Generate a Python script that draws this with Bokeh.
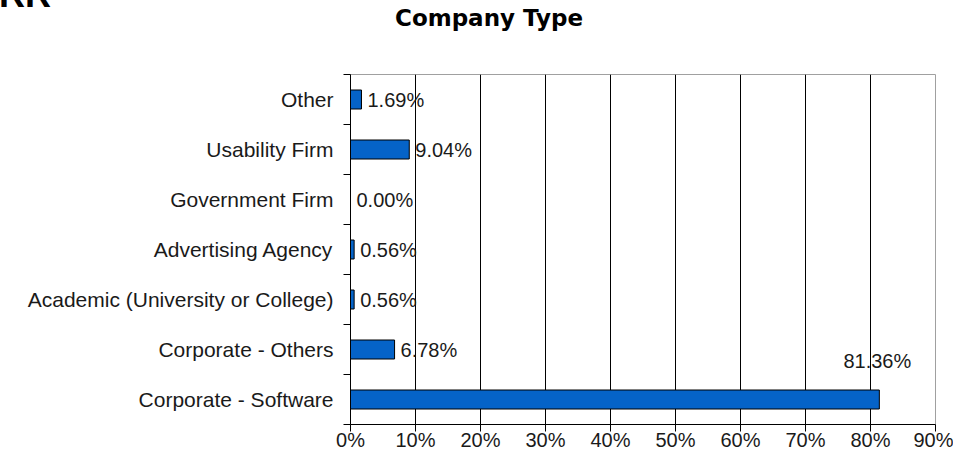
from bokeh.plotting import figure
from bokeh.models import FixedTicker, ColumnDataSource, PrintfTickFormatter, Div
from bokeh.layouts import column
from bokeh.core.properties import value
from bokeh.embed import file_html
from bokeh.resources import INLINE

# ---- data ----
categories = [
    "Corporate - Software",
    "Corporate - Others",
    "Academic (University or College)",
    "Advertising Agency",
    "Government Firm",
    "Usability Firm",
    "Other",
]
percents = [81.36, 6.78, 0.56, 0.56, 0.00, 9.04, 1.69]
x_ticks = [0, 10, 20, 30, 40, 50, 60, 70, 80, 90]
title_text = "Company Type"
page_heading = "RR"

FONT = "Liberation Sans"
TXT = "#1a1a1a"

centers = [i + 0.5 for i in range(len(categories))]
labels = [f"{v:.2f}%" for v in percents]

HEAD_H = 40
title_html = (
    f'<div style="position:relative;width:953px;height:{HEAD_H}px;overflow:hidden;margin:0;padding:0;">'
    '<div style="position:absolute;left:-1px;top:-23px;font-family:\'Liberation Sans\';'
    'font-size:36px;font-weight:bold;line-height:1;color:black;white-space:nowrap;">'
    f'{page_heading}</div>'
    '<div style="position:absolute;left:395px;top:5px;font-family:\'DejaVu Sans\';'
    'font-size:23px;font-weight:bold;line-height:normal;white-space:nowrap;color:black;">'
    f'{title_text}</div>'
    '</div>'
)
head = Div(text=title_html, width=953, height=HEAD_H, margin=(0, 0, 0, 0))

p = figure(width=953, height=453 - HEAD_H, x_range=(0, 90), y_range=(0, len(categories)),
           title=None, output_backend="svg", toolbar_location=None,
           min_border_left=350, min_border_right=18, min_border_top=74 - HEAD_H,
           min_border_bottom=26)
p.background_fill_color = "white"
p.outline_line_color = "#a0a0a0"
p.outline_line_width = 1

# grid
p.xgrid.ticker = FixedTicker(ticks=x_ticks[:-1])
p.xgrid.grid_line_color = "black"
p.xgrid.grid_line_width = 1
p.ygrid.visible = False

# bars
src = ColumnDataSource(dict(y=centers, right=percents, label=labels, cat=categories))
p.hbar(y="y", left=0, right="right", height=0.38, source=src,
       fill_color="#0563c8", line_color="black", line_width=1)

# value labels
small = [i for i, v in enumerate(percents) if v < 50]
big = [i for i, v in enumerate(percents) if v >= 50]
s_small = ColumnDataSource(dict(x=[percents[i] for i in small], y=[centers[i] for i in small],
                                t=[labels[i] for i in small]))
s_big = ColumnDataSource(dict(x=[percents[i] for i in big], y=[centers[i] for i in big],
                              t=[labels[i] for i in big]))
p.text(x="x", y="y", text="t", source=s_small, x_offset=6, text_align="left",
       text_baseline="middle", text_font=value(FONT), text_font_size="20px", text_color=TXT)
p.text(x="x", y="y", text="t", source=s_big, x_offset=-2, y_offset=-39, text_align="center",
       text_baseline="middle", text_font=value(FONT), text_font_size="20px", text_color=TXT)

# x axis
xa = p.xaxis[0]
xa.ticker = FixedTicker(ticks=x_ticks)
xa.formatter = PrintfTickFormatter(format="%d%%")
xa.major_tick_in = 0
xa.major_tick_out = 7
xa.minor_tick_line_color = None
xa.axis_line_color = "black"
xa.major_tick_line_color = "black"
xa.major_label_standoff = -3
xa.major_label_text_font = FONT
xa.major_label_text_font_size = "20px"
xa.major_label_text_color = TXT

# y axis
ya = p.yaxis[0]
ya.ticker = FixedTicker(ticks=centers, minor_ticks=list(range(len(categories) + 1)))
ya.major_label_overrides = {c: n for c, n in zip(centers, categories)}
ya.major_tick_in = 0
ya.major_tick_out = 0
ya.minor_tick_in = 0
ya.minor_tick_out = 7
ya.minor_tick_line_color = "black"
ya.minor_tick_line_width = 1
ya.axis_line_color = "black"
ya.axis_line_width = 1
ya.major_label_standoff = 10
ya.major_label_text_font = FONT
ya.major_label_text_font_size = "21px"
ya.major_label_text_color = TXT

layout = column(head, p, spacing=0)
open("out.html", "w").write(file_html(layout, INLINE))
